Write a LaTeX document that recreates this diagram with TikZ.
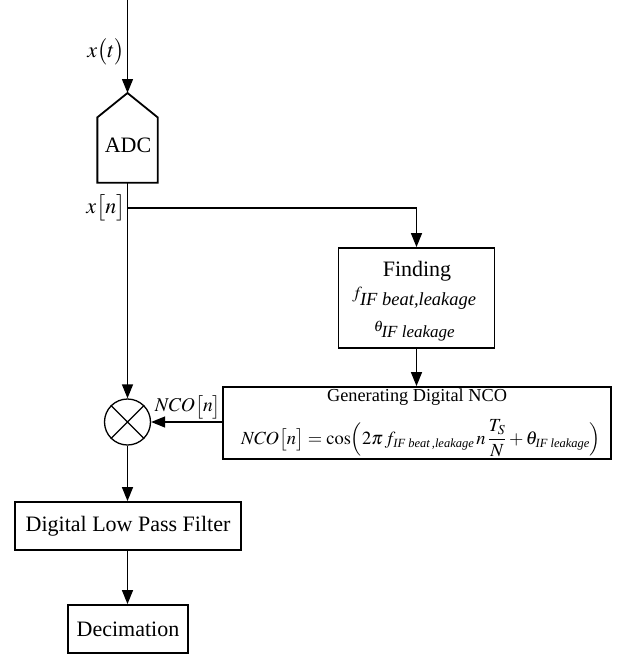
\documentclass[tikz,border=0pt]{standalone}
\usepackage{mathptmx}
\usepackage{fontspec}
\setmainfont{Liberation Serif}
\usetikzlibrary{arrows.meta}
\newcommand{\subtxt}[2]{\mbox{\fontsize{#1}{#1}\selectfont\itshape #2}}
\begin{document}
\begin{tikzpicture}[x=1pt,y=-1pt,
  line width=1.3pt,
  arr/.style={-{Triangle[length=14pt,width=11pt]}},
  blk/.style={draw,line width=1.8pt,inner sep=0pt,font=\fontsize{22}{26}\selectfont},
  lbl/.style={inner sep=0pt,font=\fontsize{22}{26}\selectfont}]
\useasboundingbox (0,0) rectangle (621,656);
% input
\coordinate (in) at (127.5,0);
\node[lbl] (adctxt) at (128,145) {ADC};
\node[inner sep=0pt,minimum width=59pt,minimum height=64pt] (adc) at (127.5,150) {};
\coordinate (apex) at (127.5,93);
\draw[line width=1.8pt] (adc.south west) -- (adc.north west) -- (apex) -- (adc.north east) -- (adc.south east) -- cycle;
\draw[arr] (in) -- (apex);
\node[lbl] (xt) at (106,52) {$x\bigl(t\bigr)$};
% branch
\coordinate (br) at (127.5,208);
\node[lbl] (xn) at (106,208) {$x\bigl[n\bigr]$};
% finding
\node[blk,minimum width=156pt,minimum height=100pt] (find) at (416.5,298) {};
\node[lbl] (findt) at (417,271) {Finding};
\node[lbl,font=\fontsize{17}{20}\selectfont] (findf) at (414.5,298) {$f_{\subtxt{18.5}{IF beat,leakage}}$};
\node[lbl,font=\fontsize{15}{18}\selectfont] (findth) at (414.5,331) {$\theta_{\subtxt{17}{IF leakage}}$};
% NCO
\node[blk,minimum width=388pt,minimum height=72pt] (nco) at (417,423) {};
\node[lbl,font=\fontsize{18.3}{20}\selectfont] (ncot) at (417,397) {Generating Digital NCO};
\node[lbl,font=\fontsize{18.5}{20}\selectfont] (ncoeq) at (421,438.5)
  {$\displaystyle \mathit{NCO}\bigl[n\bigr] = \cos\Bigl(2\pi\, f_{\subtxt{12.5}{IF beat\,,leakage}}\, n\,\frac{T_S}{N} + \theta_{\subtxt{12.5}{IF leakage}}\Bigr)$};
% mixer
\node[draw,circle,minimum size=46pt,inner sep=0pt,line width=1.3pt] (mix) at (127.5,422) {};
\draw[line width=1.3pt] (mix.north west) -- (mix.south east) (mix.north east) -- (mix.south west);
\node[lbl,font=\fontsize{19.5}{22}\selectfont] (ncon) at (188,407) {$\mathit{NCO}\bigl[n\bigr]$};
% LPF & decimation
\node[blk,minimum width=226pt,minimum height=48pt] (lpf) at (128,526) {Digital Low Pass Filter};
\node[blk,minimum width=120pt,minimum height=48pt] (dec) at (128,629) {Decimation};
% connectors
\draw (adc.south) -- (br);
\draw[arr] (br) -| (find.north);
\draw[arr] (br) -- (mix.north);
\draw[arr] (find.south) -- (nco.north -| find.south);
\draw[arr] (nco.west |- mix.east) -- (mix.east);
\draw[arr] (mix.south) -- (lpf.north -| mix.south);
\draw[arr] (lpf.south -| mix.south) -- (dec.north -| mix.south);
\end{tikzpicture}
\end{document}
